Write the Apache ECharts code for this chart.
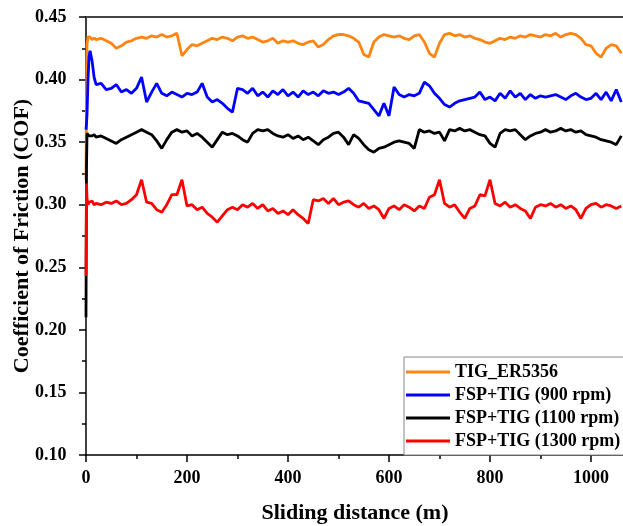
<!DOCTYPE html>
<html>
<head>
<meta charset="utf-8">
<script src="https://cdn.jsdelivr.net/npm/echarts@6/dist/echarts.min.js"></script>
<style>
  html, body { margin: 0; padding: 0; background: #fff; }
  #chart { width: 623px; height: 526px; }
</style>
</head>
<body>
<div id="chart"></div>
<script>
// sliding distance (m): a few points for the running-in, then every 10 m
let headDistance = [0, 1, 2, 4, 6, 8, 12, 16, 20]
let distance = headDistance.slice()
for (let d = 30; d <= 1060; d += 10) distance.push(d)

let legendNames = ['TIG_ER5356', 'FSP+TIG (900 rpm)', 'FSP+TIG (1100 rpm)', 'FSP+TIG (1300 rpm)']
let lineColors = ['#FF8512', '#0000FF', '#000000', '#FF0000']

// COF, TIG_ER5356
let cofTig = [
  0.320, 0.380, 0.428, 0.434, 0.433, 0.434, 0.432, 0.433, 0.432,
  0.433, 0.431, 0.429, 0.425, 0.427, 0.430, 0.431, 0.433,
  0.434, 0.433, 0.435, 0.434, 0.436, 0.434, 0.435, 0.437, 0.419, 0.424,
  0.428, 0.427, 0.429, 0.431, 0.433, 0.432, 0.434, 0.433, 0.431, 0.434,
  0.435, 0.433, 0.434, 0.432, 0.430, 0.431, 0.433, 0.429, 0.431, 0.430,
  0.431, 0.429, 0.428, 0.430, 0.431, 0.426, 0.428, 0.432, 0.435, 0.436,
  0.436, 0.435, 0.433, 0.430, 0.420, 0.418, 0.430, 0.434, 0.436, 0.435,
  0.434, 0.435, 0.433, 0.432, 0.435, 0.436, 0.430, 0.421, 0.418, 0.429,
  0.436, 0.437, 0.435, 0.436, 0.434, 0.435, 0.433, 0.432, 0.430, 0.429,
  0.431, 0.433, 0.432, 0.434, 0.433, 0.435, 0.434, 0.436, 0.435, 0.434,
  0.436, 0.435, 0.437, 0.434, 0.436, 0.437, 0.436, 0.433, 0.428, 0.427,
  0.421, 0.418, 0.425, 0.428, 0.427, 0.421
]
// COF, FSP+TIG 900 rpm
let cof900 = [
  0.360, 0.365, 0.372, 0.400, 0.418, 0.423, 0.415, 0.402, 0.396,
  0.397, 0.392, 0.393, 0.396, 0.390, 0.392, 0.389, 0.393,
  0.402, 0.382, 0.390, 0.397, 0.389, 0.387, 0.390, 0.388, 0.386, 0.389,
  0.388, 0.390, 0.397, 0.386, 0.382, 0.384, 0.381, 0.377, 0.374, 0.393,
  0.392, 0.389, 0.393, 0.387, 0.390, 0.386, 0.391, 0.388, 0.392, 0.387,
  0.390, 0.386, 0.391, 0.388, 0.390, 0.387, 0.391, 0.389, 0.390, 0.388,
  0.390, 0.393, 0.389, 0.383, 0.382, 0.381, 0.376, 0.371, 0.381, 0.371,
  0.394, 0.388, 0.386, 0.388, 0.387, 0.389, 0.398, 0.395, 0.389, 0.385,
  0.380, 0.378, 0.381, 0.383, 0.384, 0.385, 0.386, 0.390, 0.384, 0.386,
  0.383, 0.389, 0.385, 0.391, 0.386, 0.389, 0.384, 0.388, 0.385, 0.387,
  0.386, 0.387, 0.388, 0.386, 0.384, 0.387, 0.389, 0.386, 0.384, 0.385,
  0.389, 0.384, 0.390, 0.383, 0.392, 0.382
]
// COF, FSP+TIG 1100 rpm
let cof1100 = [
  0.210, 0.330, 0.357, 0.357, 0.355, 0.356, 0.355, 0.356, 0.354,
  0.355, 0.353, 0.351, 0.349, 0.352, 0.354, 0.356, 0.358,
  0.360, 0.358, 0.356, 0.351, 0.345, 0.352, 0.358, 0.360, 0.358, 0.359,
  0.355, 0.357, 0.354, 0.350, 0.346, 0.352, 0.358, 0.356, 0.357, 0.355,
  0.352, 0.350, 0.357, 0.360, 0.359, 0.360, 0.357, 0.355, 0.354, 0.356,
  0.353, 0.355, 0.352, 0.354, 0.351, 0.348, 0.352, 0.354, 0.357, 0.358,
  0.354, 0.348, 0.356, 0.353, 0.348, 0.344, 0.342, 0.345, 0.346, 0.348,
  0.350, 0.351, 0.350, 0.349, 0.345, 0.360, 0.358, 0.359, 0.357, 0.358,
  0.351, 0.360, 0.359, 0.361, 0.359, 0.360, 0.358, 0.356, 0.355, 0.349,
  0.346, 0.357, 0.360, 0.359, 0.360, 0.356, 0.352, 0.355, 0.357, 0.358,
  0.360, 0.358, 0.359, 0.361, 0.359, 0.360, 0.358, 0.359, 0.356, 0.355,
  0.354, 0.352, 0.351, 0.350, 0.348, 0.355
]
// COF, FSP+TIG 1300 rpm
let cof1300 = [
  0.243, 0.317, 0.305, 0.300, 0.302, 0.301, 0.303, 0.300, 0.301,
  0.300, 0.302, 0.301, 0.303, 0.300, 0.301, 0.304, 0.308,
  0.320, 0.302, 0.301, 0.296, 0.294, 0.300, 0.308, 0.308, 0.320, 0.299,
  0.300, 0.296, 0.298, 0.293, 0.290, 0.286, 0.291, 0.296, 0.298, 0.296,
  0.300, 0.298, 0.301, 0.297, 0.300, 0.295, 0.297, 0.293, 0.295, 0.292,
  0.296, 0.292, 0.289, 0.285, 0.304, 0.303, 0.305, 0.301, 0.305, 0.300,
  0.302, 0.303, 0.300, 0.298, 0.301, 0.297, 0.299, 0.296, 0.289, 0.297,
  0.299, 0.296, 0.300, 0.298, 0.295, 0.299, 0.297, 0.306, 0.308, 0.320,
  0.301, 0.298, 0.300, 0.294, 0.289, 0.297, 0.299, 0.308, 0.307, 0.320,
  0.301, 0.299, 0.302, 0.298, 0.300, 0.297, 0.295, 0.289, 0.298, 0.300,
  0.299, 0.301, 0.298, 0.300, 0.297, 0.299, 0.296, 0.289, 0.297, 0.300,
  0.301, 0.298, 0.300, 0.299, 0.297, 0.299
]
let seriesValues = [cofTig, cof900, cof1100, cof1300]

let font = '"Liberation Serif", "Times New Roman", serif'

let series = []
for (let i = 0; i < legendNames.length; i++) {
  series.push({
    name: legendNames[i],
    type: 'line',
    showSymbol: false,
    symbol: 'none',
    lineStyle: { color: lineColors[i], width: 2.8 },
    itemStyle: { color: lineColors[i] },
    data: distance.map((d, k) => [d, seriesValues[i][k]])
  })
}

let myChart = echarts.init(document.getElementById('chart'))
myChart.setOption({
  animation: false,
  grid: { left: 86, right: -69, top: 17, bottom: 71, outerBoundsMode: 'none', containLabel: false },
  legend: {
    orient: 'vertical',
    left: 404,
    top: 357,
    padding: [5, 20, 4, 2],
    itemGap: 3,
    itemWidth: 44,
    itemHeight: 3,
    icon: 'rect',
    borderColor: '#888',
    borderWidth: 1,
    backgroundColor: '#fff',
    textStyle: { fontFamily: font, fontWeight: 'bold', fontSize: 18, color: '#000', lineHeight: 20 },
    data: legendNames
  },
  xAxis: [{
    type: 'value',
    min: 0,
    max: 1200,
    interval: 200,
    name: 'Sliding distance (m)',
    nameLocation: 'middle',
    nameGap: 47,
    nameMoveOverlap: false,
    nameTextStyle: { fontFamily: font, fontWeight: 'bold', fontSize: 22, color: '#000', padding: [0, 68, 0, 0] },
    axisLine: { show: true, lineStyle: { color: '#000', width: 1.5 } },
    axisTick: { show: true, length: 7, lineStyle: { color: '#000', width: 1.5 } },
    minorTick: { show: true, splitNumber: 2, length: 4, lineStyle: { color: '#000', width: 1.5 } },
    axisLabel: { margin: 14, fontFamily: font, fontWeight: 'bold', fontSize: 18, color: '#000', formatter: v => String(v) },
    splitLine: { show: false }
  }, {
    type: 'value',
    position: 'top',
    min: 0,
    max: 1200,
    axisLine: { show: true, lineStyle: { color: '#444', width: 2 } },
    axisTick: { show: false },
    axisLabel: { show: false },
    splitLine: { show: false }
  }],
  yAxis: {
    type: 'value',
    min: 0.1,
    max: 0.45,
    interval: 0.05,
    offset: 2.5,
    name: 'Coefficient of Friction (COF)',
    nameLocation: 'middle',
    nameGap: 50,
    nameMoveOverlap: false,
    nameTextStyle: { fontFamily: font, fontWeight: 'bold', fontSize: 22, color: '#000' },
    axisLine: { show: true, lineStyle: { color: '#000', width: 1.5 } },
    axisTick: { show: true, length: 7, lineStyle: { color: '#000', width: 1.5 } },
    minorTick: { show: true, splitNumber: 2, length: 4, lineStyle: { color: '#000', width: 1.5 } },
    axisLabel: {
      margin: 17,
      fontFamily: font,
      fontWeight: 'bold',
      fontSize: 18,
      color: '#000',
      formatter: v => v.toFixed(2)
    },
    splitLine: { show: false }
  },
  series: series
})
</script>
</body>
</html>
